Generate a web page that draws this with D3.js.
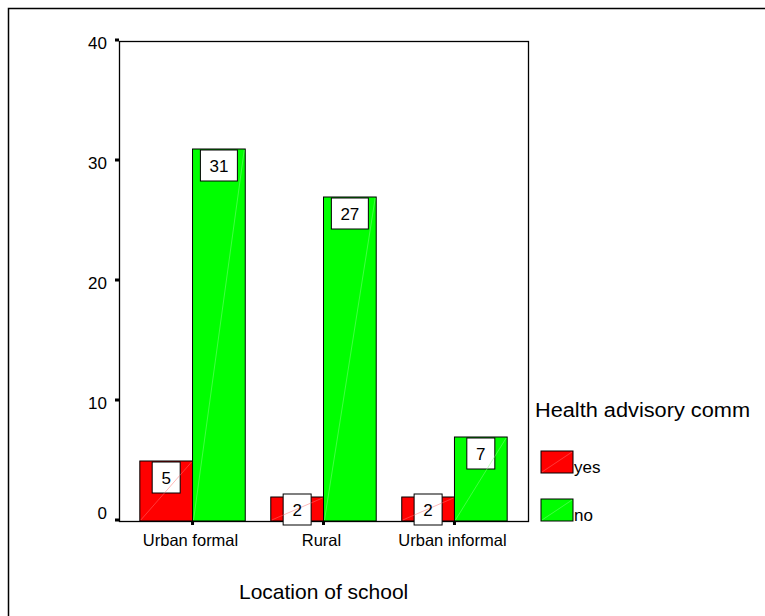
<!DOCTYPE html>
<html lang="en"><head>
<meta charset="utf-8">
<script src="https://d3js.org/d3.v7.min.js"></script>
<style>
body { margin: 0; background: #fff; }
text { font-family: "Liberation Sans", Arial, sans-serif; fill: #000; }
</style>
</head><body>
<div id="chart"></div>
<script>
// data
var locations = ["Urban formal", "Rural", "Urban informal"];
var answers = ["yes", "no"];
var yesCounts = [5, 2, 2];
var noCounts = [31, 27, 7];
var yTicks = [0, 10, 20, 30, 40];
var colors = ["#ff0000", "#00ff00"];
var diagColors = ["#ff7070", "#80ff80"];

var width = 765, height = 616;

var svg = d3.select("#chart").append("svg")
    .attr("width", width)
    .attr("height", height);

// outer frame
svg.append("path")
    .attr("d", "M8.5," + height + "V8.5H" + width)
    .attr("fill", "none")
    .attr("stroke", "#000")
    .attr("stroke-width", 1.5);

var x = d3.scaleBand()
    .domain(locations)
    .range([119, 528])
    .paddingInner(0.195)
    .paddingOuter(0.159);

var xs = d3.scaleBand()
    .domain(answers)
    .range([0, x.bandwidth()]);

var y = d3.scaleLinear()
    .domain([0, 40])
    .range([521, 41]);

var color = d3.scaleOrdinal().domain(answers).range(colors);
var diag = d3.scaleOrdinal().domain(answers).range(diagColors);

// plot frame
svg.append("rect")
    .attr("x", 119.5).attr("y", y(40) + 0.5)
    .attr("width", 528 - 119).attr("height", y(0) - y(40))
    .attr("fill", "none").attr("stroke", "#000").attr("stroke-width", 1.3);

var rows = [];
locations.forEach(function (loc, i) {
    rows.push({ loc: loc, key: "yes", value: yesCounts[i] });
    rows.push({ loc: loc, key: "no", value: noCounts[i] });
});

var g = svg.append("g");

g.selectAll("rect.bar")
    .data(rows)
    .join("rect")
    .attr("class", "bar")
    .attr("x", d => x(d.loc) + xs(d.key))
    .attr("y", d => y(d.value))
    .attr("width", xs.bandwidth())
    .attr("height", d => y(0) - y(d.value))
    .attr("fill", d => color(d.key))
    .attr("stroke", "#000")
    .attr("stroke-width", 1);

// value boxes
function boxW(d) { return 19 + 9 * String(d.value).length; }
function boxTop(d) { return Math.min(y(d.value) + 1, y(0) - 27); }

g.selectAll("rect.lab")
    .data(rows)
    .join("rect")
    .attr("class", "lab")
    .attr("x", d => x(d.loc) + xs(d.key) + xs.bandwidth() / 2 - boxW(d) / 2)
    .attr("y", d => boxTop(d))
    .attr("width", d => boxW(d))
    .attr("height", 31)
    .attr("fill", "#fff")
    .attr("stroke", "#000")
    .attr("stroke-width", 1);

// faint diagonal through each bar
g.selectAll("line.diag")
    .data(rows)
    .join("line")
    .attr("class", "diag")
    .attr("x1", d => x(d.loc) + xs(d.key) + 1)
    .attr("y1", y(0) - 1)
    .attr("x2", d => x(d.loc) + xs(d.key) + xs.bandwidth() - 1)
    .attr("y2", d => y(d.value) + 1)
    .attr("stroke", d => diag(d.key))
    .attr("stroke-width", 0.5);

g.selectAll("text.val")
    .data(rows)
    .join("text")
    .attr("class", "val")
    .attr("x", d => x(d.loc) + xs(d.key) + xs.bandwidth() / 2)
    .attr("y", d => boxTop(d) + 22)
    .attr("text-anchor", "middle")
    .attr("font-size", 17)
    .text(d => d.value);

// y axis ticks and labels
var yt = svg.append("g");
yt.selectAll("rect")
    .data(yTicks)
    .join("rect")
    .attr("x", 115).attr("y", d => y(d) - 2.5)
    .attr("width", 4).attr("height", 3)
    .attr("fill", "#000");
yt.selectAll("text")
    .data(yTicks)
    .join("text")
    .attr("x", 107)
    .attr("y", d => Math.min(y(d) + 8, y(0) - 2))
    .attr("text-anchor", "end")
    .attr("font-size", 17)
    .text(d => d);

// x axis ticks and labels
var xt = svg.append("g");
xt.selectAll("rect")
    .data(locations)
    .join("rect")
    .attr("x", d => x(d) + x.bandwidth() / 2 - 1.5)
    .attr("y", y(0))
    .attr("width", 3).attr("height", 4)
    .attr("fill", "#000");
xt.selectAll("text")
    .data(locations)
    .join("text")
    .attr("x", d => x(d) + x.bandwidth() / 2 - 2)
    .attr("y", 546)
    .attr("text-anchor", "middle")
    .attr("font-size", 16.5)
    .text(d => d);

svg.append("text")
    .attr("x", 239).attr("y", 599)
    .attr("font-size", 21)
    .text("Location of school");

// legend
var legend = svg.append("g");
legend.append("text")
    .attr("x", 535).attr("y", 417)
    .attr("font-size", 20)
    .attr("textLength", 215)
    .attr("lengthAdjust", "spacingAndGlyphs")
    .text("Health advisory comm");

var li = legend.selectAll("g.item")
    .data(answers)
    .join("g")
    .attr("class", "item")
    .attr("transform", (d, i) => "translate(541," + (451 + i * 48) + ")");
li.append("rect")
    .attr("width", 32).attr("height", 22)
    .attr("fill", d => color(d))
    .attr("stroke", "#000").attr("stroke-width", 1);
li.append("line")
    .attr("x1", 1).attr("y1", 21).attr("x2", 31).attr("y2", 1)
    .attr("stroke", d => diag(d)).attr("stroke-width", 0.5);
li.append("text")
    .attr("x", 33).attr("y", 22)
    .attr("font-size", 17)
    .text(d => d);
</script>
</body></html>
